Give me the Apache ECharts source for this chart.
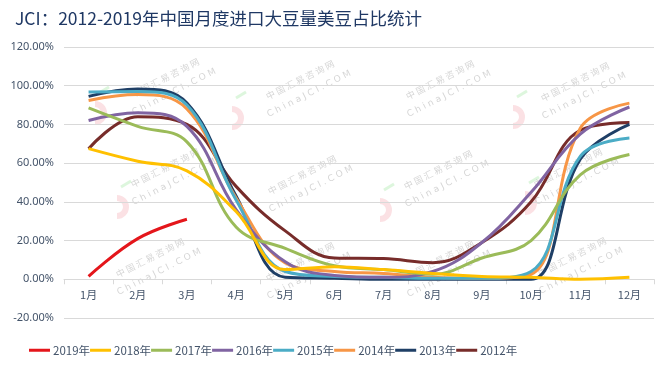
<!DOCTYPE html>
<html>
<head>
<meta charset="utf-8">
<script src="https://cdn.jsdelivr.net/npm/echarts@6/dist/echarts.min.js"></script>
<style>
html,body{margin:0;padding:0;background:#fff;}
#c{width:663px;height:373px;}
</style>
</head>
<body>
<div id="c"></div>
<script>
var months = ['1月','2月','3月','4月','5月','6月','7月','8月','9月','10月','11月','12月'];
var seriesNames = ['2019年','2018年','2017年','2016年','2015年','2014年','2013年','2012年'];
var v2019 = [1.5, 21, 31];
var v2018 = [67.5, 61, 56, 35, 5, 6.5, 5, 3, 1.5, 1, 0, 1];
var v2017 = [88.5, 79, 71, 27, 16, 7, 5, 2.6, 11, 20, 54, 64.5];
var v2016 = [82, 86, 79, 36, 9, 2, 1, 4, 19, 45, 75, 89];
var v2015 = [96.7, 97, 90, 41, 4, 1.5, 1, 0.5, 0.5, 4, 63.5, 73];
var v2014 = [92.4, 95.4, 88, 42, 8.5, 4, 3, 1, 0.5, 2.6, 78, 91];
var v2013 = [94.5, 98.3, 91, 43, 1, 0.5, 0, 0, 0, 0, 62, 80];
var v2012 = [67.4, 84, 80, 48, 25, 11, 10.7, 8.6, 19, 40, 77, 81];
var yTicks = [-20, 0, 20, 40, 60, 80, 100, 120];
var colors = ['#E4161B','#FFC000','#9BBB59','#8064A2','#4BACC6','#F79646','#1F3F66','#772C2A'];
var dataList = [v2019, v2018, v2017, v2016, v2015, v2014, v2013, v2012];

var gridTop = 47, gridBottom = 55, chartH = 373;
var plotH = chartH - gridTop - gridBottom;
var zeroOffset = -plotH * (0 - yTicks[0]) / (yTicks[yTicks.length-1] - yTicks[0]);

var wmPos = [[165,78],[300,80],[440,80],[575,82],[165,168],[302,175],[438,170],[568,168],[150,258],[300,262],[440,260],[572,257]];
var logoPos = [[95,113],[232,118],[513,117],[117,207],[380,210],[525,203]];
var graphics = [];
wmPos.forEach(function(p){
  graphics.push({type:'text', x:p[0], y:p[1], rotation:0.47, z:-10, silent:true,
    style:{text:'中 国 汇 易 咨 询 网', fill:'rgba(150,150,150,0.4)', font:'9px "Noto Sans CJK SC"', align:'center', verticalAlign:'middle'}});
  graphics.push({type:'text', x:p[0]+9, y:p[1]+14, rotation:0.47, z:-10, silent:true,
    style:{text:'C h i n a J C I . C O M', fill:'rgba(150,150,150,0.4)', font:'9px "DejaVu Sans"', align:'center', verticalAlign:'middle'}});
});
logoPos.forEach(function(p){
  graphics.push({type:'arc', z:-11, silent:true, shape:{cx:p[0], cy:p[1], r:9, startAngle:-Math.PI/2, endAngle:Math.PI/2},
    style:{stroke:'rgba(235,120,130,0.22)', lineWidth:6, fill:null}});
  graphics.push({type:'line', z:-11, silent:true, shape:{x1:p[0]+4, y1:p[1]-20, x2:p[0]+14, y2:p[1]-26},
    style:{stroke:'rgba(120,220,120,0.25)', lineWidth:3}});
});

var chart = echarts.init(document.getElementById('c'), null, {renderer:'canvas'});
chart.setOption({
  animation:false,
  backgroundColor:'#fff',
  title:{text:'JCI：2012-2019年中国月度进口大豆量美豆占比统计', left:10, top:5,
    textStyle:{fontFamily:'"Noto Sans CJK SC"', fontSize:17.5, fontWeight:'normal', color:'#1F3864'}},
  color:colors,
  grid:{left:64, right:9, top:gridTop, bottom:gridBottom},
  legend:{bottom:12, left:24, icon:'rect', itemWidth:21, itemHeight:3, itemGap:0,
    textStyle:{fontFamily:'"Noto Sans CJK SC"', fontSize:11.5, color:'#44546A', padding:[0,0,0,-2]},
    data:seriesNames},
  xAxis:{type:'category', data:months, boundaryGap:true, position:'bottom', offset:zeroOffset,
    axisLine:{onZero:false, lineStyle:{color:'#D9D9D9', width:1}},
    axisTick:{show:true, length:5, lineStyle:{color:'#D9D9D9'}},
    axisLabel:{fontFamily:'"Noto Sans CJK SC"', fontSize:11, color:'#44546A', margin:10}},
  yAxis:{type:'value', min:yTicks[0], max:yTicks[yTicks.length-1], interval:20,
    axisLine:{show:false}, axisTick:{show:false},
    splitLine:{lineStyle:{color:'#D9D9D9'}},
    axisLabel:{fontFamily:'"Noto Sans"', fontSize:11, color:'#44546A', margin:10,
      formatter:function(v){return v.toFixed(2)+'%';}}},
  graphic:graphics,
  series:seriesNames.map(function(n,i){
    return {name:n, type:'line', data:dataList[i], smooth:0.4, symbol:'none',
      lineStyle:{width:3, color:colors[i]}, z:10-i};
  })
});
</script>
</body>
</html>
